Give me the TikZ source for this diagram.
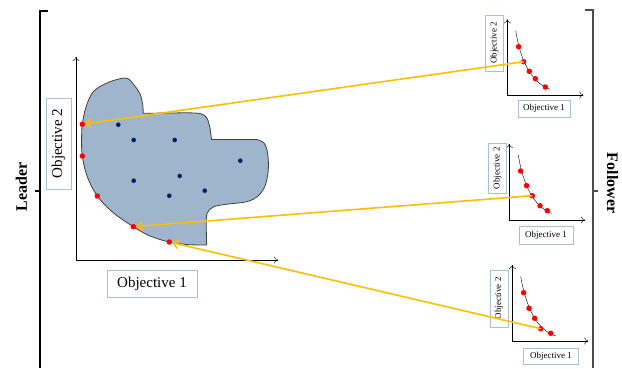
\documentclass[tikz,border=0pt]{standalone}
\usepackage{fontspec}
\setmainfont{Liberation Serif}
\usepackage{tikz}
\usetikzlibrary{arrows.meta}
\definecolor{blobfill}{rgb}{0.62,0.71,0.80}
\definecolor{blobline}{rgb}{0.25,0.25,0.25}
\definecolor{navy}{rgb}{0.0,0.13,0.38}
\definecolor{boxline}{rgb}{0.66,0.75,0.85}
\definecolor{gold}{rgb}{1.0,0.75,0.0}

\tikzset{
  rdot/.style={circle, fill=red, inner sep=0pt, minimum size=5.5pt},
  bdot/.style={circle, fill=navy, inner sep=0pt, minimum size=4.6pt},
  lbox/.style={draw=boxline, fill=white, inner sep=0pt, font=\fontsize{15}{18}\selectfont},
  sbox/.style={draw=boxline, fill=white, inner sep=0pt, font=\fontsize{9}{11}\selectfont},
  side/.style={font=\fontsize{16}{19}\selectfont\bfseries},
  axis/.style={thin, -{To[length=4pt,width=7pt]}},
  link/.style={gold, line width=1.6pt, -{Straight Barb[length=5pt,width=9pt]}}
}

\begin{document}
\begin{tikzpicture}[x=1pt,y=-1pt]
			\useasboundingbox (0,0) rectangle (622,368);
			% brackets
			\draw[line width=1.1pt] (48,11) -- (40,11) -- (40,368);
			\draw[line width=1.1pt] (35,191) -- (40,191);
			\draw[line width=1.3pt, black!70] (585,10) -- (593,10) -- (593,368);
			\draw[line width=1.3pt, black!70] (593,191) -- (598,191);
			\node[side, rotate=90] (leader) at (21.5,187) {Leader};
			\node[side, rotate=-90] (follower) at (612.5,183) {Follower};
			% leader region
			\filldraw[fill=blobfill, draw=blobline, thick]
				plot[smooth, tension=0.55] coordinates {(206.7,245) (188,244.6) (169.3,242) (150,236) (133.3,226.7) (113,212.5) (97.3,196) (87,176) (82.3,156) (81.6,140) (82.3,124.3) (86,107) (93.3,91.7) (108,82.5) (126,78) (134,85) (140,94) (142.6,104) (143.3,113.3)}
				-- plot[smooth, tension=0.55] coordinates {(185,112.8) (200,113.5) (206.5,117.5) (209.8,127) (211.5,139.5)}
				-- plot[smooth, tension=0.55] coordinates {(256.7,139.5) (264,143) (267.6,153) (268.3,170) (265,186) (258,196) (246.7,201.7) (226,204.3) (213.3,207) (207,213.5) (206.3,227) (206.7,245)}
				-- cycle;
			\draw[axis] (76,260) -- (76,57);
			\draw[axis] (76,260) -- (278,260);
			\node[lbox, rotate=90, minimum width=91pt, minimum height=25pt] (obj2) at (58.5,143.5) {Objective 2};
			\node[lbox, minimum width=90pt, minimum height=27pt] (obj1) at (152,283.5) {Objective 1};
			\node[bdot] (b1) at (118.3,124.7) {};
			\node[bdot] (b2) at (133.7,140) {};
			\node[bdot] (b3) at (174.7,140) {};
			\node[bdot] (b4) at (240.3,160.7) {};
			\node[bdot] (b5) at (179.7,176) {};
			\node[bdot] (b6) at (133.7,180.7) {};
			\node[bdot] (b7) at (204.7,190.7) {};
			\node[bdot] (b8) at (169.3,195.7) {};
			\node[rdot] (l1) at (82.3,124.3) {};
			\node[rdot] (l2) at (82.3,156) {};
			\node[rdot] (l3) at (97.3,196) {};
			\node[rdot] (l4) at (133.3,226.7) {};
			\node[rdot] (l5) at (169.3,242) {};
			% follower 1
			\draw[axis] (507.3,95) -- (507.3,19.3);
			\draw[axis] (507.3,95) -- (583.3,95);
			\draw (515.7,30.7) .. controls (520,58) and (530,82) .. (550,89.3);
			\node[sbox, rotate=90, minimum width=56pt, minimum height=18pt] (fa2) at (494.5,42.8) {Objective 2};
			\node[sbox, minimum width=52pt, minimum height=17pt] (fa1) at (544,108.7) {Objective 1};
			\node[rdot] (pa1) at (518.6,46.7) {};
			\node[rdot] (pa2) at (523.6,61.7) {};
			\node[rdot] (pa3) at (529.3,71.3) {};
			\node[rdot] (pa4) at (535.3,78.7) {};
			\node[rdot] (pa5) at (545.3,87) {};
			% follower 2
			\draw[axis] (509.3,220) -- (509.3,144);
			\draw[axis] (509.3,220) -- (585,220);
			\draw (518.3,155) .. controls (523,184) and (533,206) .. (551.7,213.3);
			\node[sbox, rotate=90, minimum width=50pt, minimum height=18.3pt] (fb2) at (497.5,168.3) {Objective 2};
			\node[sbox, minimum width=54pt, minimum height=17.3pt] (fb1) at (546,235.3) {Objective 1};
			\node[rdot] (pb1) at (520.6,171) {};
			\node[rdot] (pb2) at (526.6,185.7) {};
			\node[rdot] (pb3) at (532.3,195.7) {};
			\node[rdot] (pb4) at (540,205.7) {};
			\node[rdot] (pb5) at (547.3,210.7) {};
			% follower 3
			\draw[axis] (512.3,341) -- (512.3,265);
			\draw[axis] (512.3,341) -- (588.3,341);
			\draw (520.7,276.7) .. controls (526,306) and (536,330) .. (556,336);
			\node[sbox, rotate=90, minimum width=57pt, minimum height=18pt] (fc2) at (499,298.3) {Objective 2};
			\node[sbox, minimum width=55pt, minimum height=16pt] (fc1) at (551,356.2) {Objective 1};
			\node[rdot] (pc1) at (523.6,292.7) {};
			\node[rdot] (pc2) at (529,308.3) {};
			\node[rdot] (pc3) at (534.6,318.3) {};
			\node[rdot] (pc4) at (540.7,328.7) {};
			\node[rdot] (pc5) at (550.7,333.3) {};
			% links
			\draw[link] (pa2.center) -- (l1);
			\draw[link] (pb3.center) -- (l4);
			\draw[link] (pc4.center) -- (l5);
\end{tikzpicture}
\end{document}
